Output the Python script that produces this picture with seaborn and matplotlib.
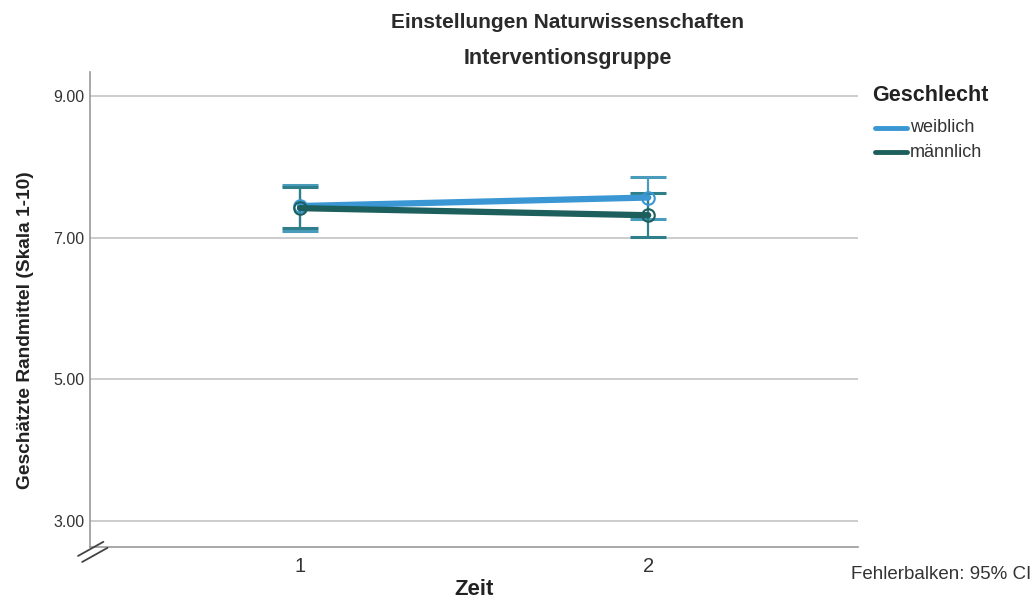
import matplotlib
matplotlib.use("Agg")
import matplotlib.pyplot as plt
import seaborn as sns
import pandas as pd

# Estimated marginal means with 95% confidence intervals
zeit = [1, 2]
weiblich_mean = [7.45, 7.57]
weiblich_lo = [7.10, 7.26]
weiblich_hi = [7.74, 7.86]
maennlich_mean = [7.42, 7.32]
maennlich_lo = [7.14, 7.01]
maennlich_hi = [7.72, 7.63]

groups = ["weiblich", "männlich"]
colors = {"weiblich": "#3a97d4", "männlich": "#1c5f5c"}
err_colors = {"weiblich": "#4a9cbc", "männlich": "#2f7f8a"}

df = pd.DataFrame({
    "Zeit": zeit * 2,
    "Geschlecht": ["weiblich"] * 2 + ["männlich"] * 2,
    "Mittel": weiblich_mean + maennlich_mean,
    "lo": weiblich_lo + maennlich_lo,
    "hi": weiblich_hi + maennlich_hi,
})

sns.set_theme(style="white")
plt.rcParams["font.family"] = ["Liberation Sans", "DejaVu Sans"]

fig = plt.figure(figsize=(10.34, 6.02), dpi=100)
ax = fig.add_axes([0.087, 0.091, 0.743, 0.789])

for g in groups:
    sub = df[df["Geschlecht"] == g]
    ax.errorbar(sub["Zeit"], sub["Mittel"],
                yerr=[sub["Mittel"] - sub["lo"], sub["hi"] - sub["Mittel"]],
                fmt="none", ecolor=err_colors[g], elinewidth=1.6,
                capsize=13, capthick=2.2, zorder=2)

sns.lineplot(data=df, x="Zeit", y="Mittel", hue="Geschlecht",
             hue_order=groups, palette=colors, linewidth=4.5,
             marker="o", markersize=9, markerfacecolor="none",
             markeredgewidth=1.5, ax=ax, zorder=3, legend=False)
for line, g in zip(ax.lines[-2:], groups):
    line.set_markeredgecolor(colors[g])

ax.set_xlim(0.397, 2.603)
ax.set_ylim(2.63, 9.34)
ax.set_xticks(zeit)
ax.set_xticklabels(["1", "2"], fontsize=14.5, color="#333333")
ax.set_yticks([3, 5, 7, 9])
ax.set_yticklabels(["3.00", "5.00", "7.00", "9.00"], fontsize=11.5, color="#333333")
ax.yaxis.grid(True, color="#c8c8c8", linewidth=1.3)
ax.xaxis.grid(False)
ax.tick_params(axis="y", length=0, pad=4)
ax.tick_params(axis="x", length=0, pad=7)

for s in ["top", "right"]:
    ax.spines[s].set_visible(False)
for s in ["left", "bottom"]:
    ax.spines[s].set_color("#9a9a9a")
    ax.spines[s].set_linewidth(1.2)

ax.set_xlabel("Zeit", fontsize=16, fontweight="bold", color="#222222", labelpad=2)
ax.set_ylabel("Geschätzte Randmittel (Skala 1-10)", fontsize=13.8, fontweight="bold",
              color="#222222")
ax.yaxis.set_label_coords(-0.073, 0.457)

# axis break marker on the y-axis
kw = dict(transform=fig.transFigure, color="#444444", linewidth=1.3, clip_on=False)
fig.add_artist(plt.Line2D([0.0755, 0.100], [0.0765, 0.100], **kw))
fig.add_artist(plt.Line2D([0.0795, 0.104], [0.0665, 0.090], **kw))

fig.text(0.549, 0.963, "Einstellungen Naturwissenschaften", ha="center", va="center",
         fontsize=15, fontweight="bold", color="#2a2a2a")
fig.text(0.549, 0.902, "Interventionsgruppe", ha="center", va="center",
         fontsize=15.5, fontweight="bold", color="#2a2a2a")

# legend
fig.text(0.843, 0.842, "Geschlecht", ha="left", va="center", fontsize=15.5,
         fontweight="bold", color="#222222")
for i, g in enumerate(groups):
    y = 0.788 - i * 0.041
    fig.add_artist(plt.Line2D([0.846, 0.877], [y, y], transform=fig.transFigure,
                              color=colors[g], linewidth=3.5))
    fig.text(0.880, y, g, ha="left", va="center", fontsize=13, color="#333333")

fig.text(0.997, 0.045, "Fehlerbalken: 95% CI", ha="right", va="center",
         fontsize=13.5, color="#333333")

fig.savefig("out.png", dpi=100, facecolor="white")
